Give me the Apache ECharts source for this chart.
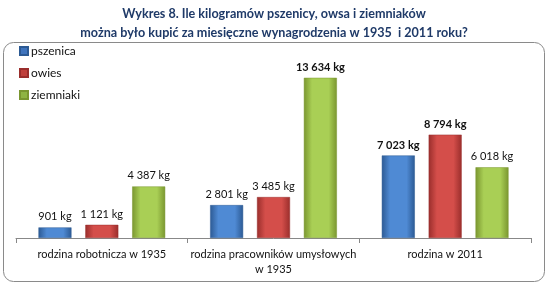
<!DOCTYPE html>
<html><head><meta charset="utf-8">
<script src="https://cdn.jsdelivr.net/npm/echarts@6/dist/echarts.min.js"></script>
<style>html,body{margin:0;padding:0;background:#fff}#c{width:548px;height:289px}</style>
</head><body><div id="c"></div>
<script>
const categories = ['rodzina robotnicza w 1935', 'rodzina pracowników umysłowych\nw 1935', 'rodzina w 2011'];
const seriesNames = ['pszenica', 'owies', 'ziemniaki'];
const pszenica = [901, 2801, 7023];
const owies = [1121, 3485, 8794];
const ziemniaki = [4387, 13634, 6018];
const boldLabels = [[false, false, true], [false, false, true], [false, true, false]];
const titleLines = ['Wykres 8. Ile kilogramów pszenicy, owsa i ziemniaków', 'można było kupić za miesięczne wynagrodzenia w 1935  i 2011 roku?'];

const FONT = 'Lato, "Open Sans", sans-serif';
const grads = [
  ['#2c5a94', '#4f8ad4', '#2c5a94'],
  ['#9a2e2c', '#d44e4a', '#9a2e2c'],
  ['#7a9630', '#a9cf55', '#7a9630']
];
const legendColors = ['#3f74bd', '#c0403c', '#8fb443'];
function grad(c){
  return new echarts.graphic.LinearGradient(0,0,1,0,[{offset:0,color:c[0]},{offset:0.25,color:c[1]},{offset:0.75,color:c[1]},{offset:1,color:c[2]}]);
}
function fmt(v){ return String(v).replace(/\B(?=(\d{3})+(?!\d))/g, ' ') + ' kg'; }
const data = [pszenica, owies, ziemniaki];
const series = data.map((vals, si) => ({
  name: seriesNames[si],
  type: 'bar',
  barWidth: 33,
  barGap: '42%',
  itemStyle: { color: grad(grads[si]), borderColor: grads[si][0], borderWidth: 0.5 },
  data: vals.map((v, ci) => ({
    value: v,
    label: { fontWeight: boldLabels[si][ci] ? 'bold' : 'normal' }
  })),
  label: { show: true, position: 'top', distance: 5, color: '#111', fontSize: 11, fontFamily: FONT, formatter: p => fmt(p.value) }
}));

const chart = echarts.init(document.getElementById('c'), null, {renderer: 'canvas'});
chart.setOption({
  animation: false,
  backgroundColor: '#fff',
  title: {
    text: titleLines.join('\n'),
    left: 'center', top: -1,
    textStyle: { fontSize: 12.6, fontWeight: 'bold', color: '#1f3a68', fontFamily: FONT, lineHeight: 19 }
  },
  graphic: [{
    type: 'rect', left: 3, top: 42, z: -1,
    shape: { width: 541, height: 239, r: 10 },
    style: { fill: '#fff', stroke: '#8a8a8a', lineWidth: 1 }
  }],
  legend: {
    orient: 'vertical', left: 14, top: 40, itemWidth: 8, itemHeight: 8, itemGap: 10,
    icon: 'rect',
    data: seriesNames.map((n, i) => ({ name: n, itemStyle: { color: legendColors[i] } })),
    textStyle: { fontSize: 12, color: '#111', fontFamily: FONT, padding: [0,0,0,-2] }
  },
  grid: { left: 16, right: 17, top: 50, bottom: 51, containLabel: false },
  xAxis: {
    type: 'category', data: categories,
    axisLine: { lineStyle: { color: '#888' } },
    axisTick: { show: true, length: 5, lineStyle: { color: '#888' }, alignWithLabel: false },
    axisLabel: { color: '#111', fontSize: 11, fontFamily: FONT, margin: 9, lineHeight: 15, interval: 0 }
  },
  yAxis: { type: 'value', min: 0, max: 16000, show: false, splitLine: { show: false } },
  series: series
});
</script></body></html>
